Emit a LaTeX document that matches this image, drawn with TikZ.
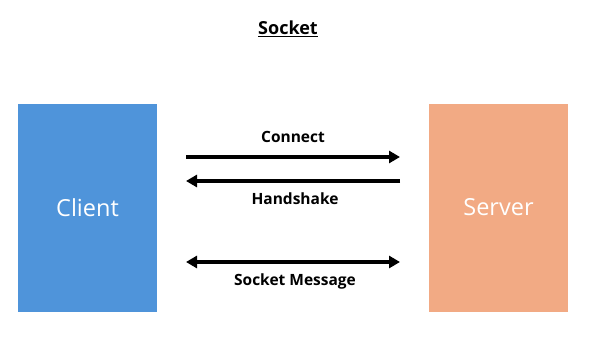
\documentclass[tikz,border=0pt]{standalone}
\usepackage{fontspec}
\setmainfont{Open Sans}
\usetikzlibrary{arrows.meta,positioning}
\definecolor{clientblue}{RGB}{79,148,218}
\definecolor{serverorange}{RGB}{242,170,132}

\begin{document}
\begin{tikzpicture}[x=1pt,y=-1pt,
    box/.style={minimum width=139pt, minimum height=208pt, inner sep=0pt,
        text=white, font=\fontsize{23.5}{28}\selectfont},
    msg/.style={line width=3.5pt, -{Triangle[length=11pt,width=12pt]}},
    lbl/.style={font=\fontsize{15.5}{18}\selectfont\bfseries}]
    \useasboundingbox (0,0) rectangle (589,340);

    % Title
    \node[font=\fontsize{18}{21}\selectfont\bfseries] (title) at (288,29) {\underline{Socket}};

    % Endpoints
    \node[box, fill=clientblue] (client) at (87.5,207.5) {Client};
    \node[box, fill=serverorange] (server) at (498.5,207.5) {Server};

    % Arrow ends
    \coordinate (connA) at (186,157);
    \coordinate (connB) at (400,157);
    \coordinate (handA) at (400,181);
    \coordinate (handB) at (186,181);
    \coordinate (sockA) at (186,262);
    \coordinate (sockB) at (400,262);

    % Messages
    \draw[msg] (connA) -- (connB);
    \node[lbl] (connect) at (293,137) {Connect};
    \draw[msg] (handA) -- (handB);
    \node[lbl] (handshake) at (295,199) {Handshake};
    \draw[msg, {Triangle[length=11pt,width=12pt]}-{Triangle[length=11pt,width=12pt]}] (sockA) -- (sockB);
    \node[lbl] (sockmsg) at (295,281) {Socket Message};
\end{tikzpicture}
\end{document}
